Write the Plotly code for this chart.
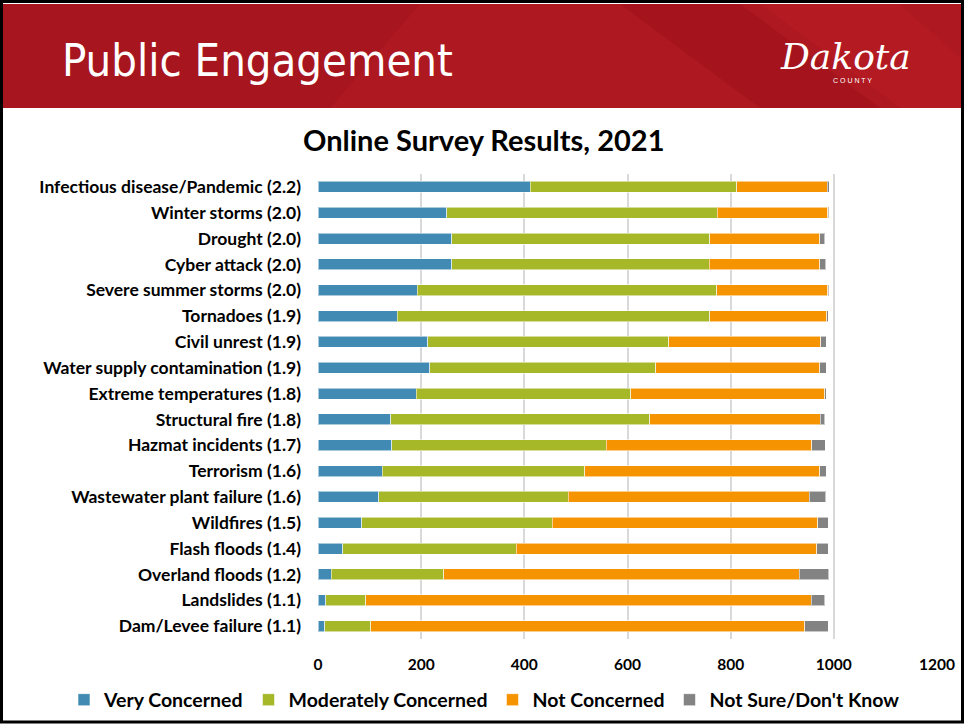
import plotly.graph_objects as go

categories = [
    "Infectious disease/Pandemic (2.2)", "Winter storms (2.0)", "Drought (2.0)",
    "Cyber attack (2.0)", "Severe summer storms (2.0)", "Tornadoes (1.9)",
    "Civil unrest (1.9)", "Water supply contamination (1.9)", "Extreme temperatures (1.8)",
    "Structural fire (1.8)", "Hazmat incidents (1.7)", "Terrorism (1.6)",
    "Wastewater plant failure (1.6)", "Wildfires (1.5)", "Flash floods (1.4)",
    "Overland floods (1.2)", "Landslides (1.1)", "Dam/Levee failure (1.1)",
]
very_concerned = [411, 250, 259, 259, 192, 154, 213, 217, 190, 141, 143, 125, 118, 85, 48, 26, 15, 13]
moderately_concerned = [401, 524, 500, 499, 581, 605, 467, 438, 416, 502, 416, 392, 367, 369, 336, 218, 78, 89]
not_concerned = [175, 214, 214, 215, 215, 227, 295, 318, 376, 331, 398, 456, 467, 515, 583, 689, 863, 842]
not_sure = [4, 2, 9, 11, 2, 3, 10, 12, 3, 8, 26, 12, 32, 20, 22, 57, 26, 45]
x_ticks = [0, 200, 400, 600, 800, 1000, 1200]

series = [
    ("Very Concerned", very_concerned, "#418AB3"),
    ("Moderately Concerned", moderately_concerned, "#A6B727"),
    ("Not Concerned", not_concerned, "#F59300"),
    ("Not Sure/Don't Know", not_sure, "#838383"),
]

W, H = 965, 725
L, R, T, B = 318, 937, 174, 639


def px(x):
    return (x - L) / (R - L)


def py(y):
    return (B - y) / (B - T)


FONT = "Lato, Liberation Sans, sans-serif"

fig = go.Figure()
for name, vals, color in series:
    fig.add_trace(go.Bar(
        y=categories, x=vals, name=name, orientation="h",
        marker=dict(color=color, line=dict(color="rgba(255,255,255,0.55)", width=1)),
    ))

shapes = []
# header banner
shapes.append(dict(type="rect", xref="paper", yref="paper", x0=px(2), x1=px(963), y0=py(4), y1=py(108),
                   fillcolor="#AE1820", line=dict(width=0), layer="below"))
shapes.append(dict(type="path", xref="paper", yref="paper",
                   path=f"M {px(2)},{py(4)} L {px(420)},{py(4)} L {px(330)},{py(108)} L {px(2)},{py(108)} Z",
                   fillcolor="rgba(160,18,28,0.45)", line=dict(width=0), layer="below"))
shapes.append(dict(type="path", xref="paper", yref="paper",
                   path=f"M {px(620)},{py(4)} L {px(740)},{py(4)} L {px(880)},{py(108)} L {px(760)},{py(108)} Z",
                   fillcolor="rgba(150,14,24,0.35)", line=dict(width=0), layer="below"))
shapes.append(dict(type="path", xref="paper", yref="paper",
                   path=f"M {px(760)},{py(4)} L {px(900)},{py(4)} L {px(963)},{py(60)} L {px(963)},{py(108)} L {px(900)},{py(108)} Z",
                   fillcolor="rgba(200,30,40,0.25)", line=dict(width=0), layer="below"))
# outer border
shapes.append(dict(type="rect", xref="paper", yref="paper", x0=px(1.5), x1=px(962.5), y0=py(1.5), y1=py(722),
                   fillcolor="rgba(0,0,0,0)", line=dict(color="black", width=3)))

annotations = [
    dict(text="Public Engagement", xref="paper", yref="paper", x=px(60), y=py(60), xanchor="left",
         yanchor="middle", showarrow=False,
         font=dict(family="DejaVu Sans Condensed, Liberation Sans Narrow, Liberation Sans, Arial", size=45, color="white")),
    dict(text="<i>Dakota</i>", xref="paper", yref="paper", x=px(845), y=py(56), xanchor="center",
         yanchor="middle", showarrow=False,
         font=dict(family="DejaVu Serif, serif", size=36, color="white")),
    dict(text="C O U N T Y", xref="paper", yref="paper", x=px(852), y=py(80), xanchor="center",
         yanchor="middle", showarrow=False,
         font=dict(family="Liberation Sans, sans-serif", size=7, color="white")),
    dict(text="<b>Online Survey Results, 2021</b>", xref="paper", yref="paper", x=px(483), y=py(139),
         xanchor="center", yanchor="middle", showarrow=False,
         font=dict(family=FONT, size=29, color="black")),
]

fig.update_layout(
    width=W, height=H,
    margin=dict(l=L, r=W - R, t=T, b=H - B, pad=0, autoexpand=False),
    barmode="stack", bargap=0.57,
    paper_bgcolor="white", plot_bgcolor="white",
    shapes=shapes, annotations=annotations,
    font=dict(family=FONT, color="black"),
    legend=dict(orientation="h", xref="paper", yref="paper", xanchor="left", yanchor="middle",
                x=px(64), y=py(700),
                font=dict(family=FONT, size=19.5, color="black", weight="bold"),
                itemwidth=30, traceorder="normal", bgcolor="rgba(0,0,0,0)"),
    xaxis=dict(range=[0, 1200], tickvals=x_ticks, ticktext=[f"<b>{v}</b>" for v in x_ticks],
               showgrid=True, gridcolor="#D9D9D9", gridwidth=1.5, zeroline=False,
               showline=False, ticks="outside", ticklen=11, tickcolor="rgba(0,0,0,0)",
               automargin=False,
               tickfont=dict(family=FONT, size=15.5, color="black")),
    yaxis=dict(categoryorder="array", categoryarray=categories, autorange="reversed",
               tickvals=categories, ticktext=[f"<b>{c}</b>" for c in categories],
               ticks="", ticklabelstandoff=16, showgrid=False, zeroline=False, automargin=False,
               tickfont=dict(family=FONT, size=17.5, color="black")),
)

fig.write_html("out.html", config={"displayModeBar": False},
               post_script="document.body.style.margin='0';")
